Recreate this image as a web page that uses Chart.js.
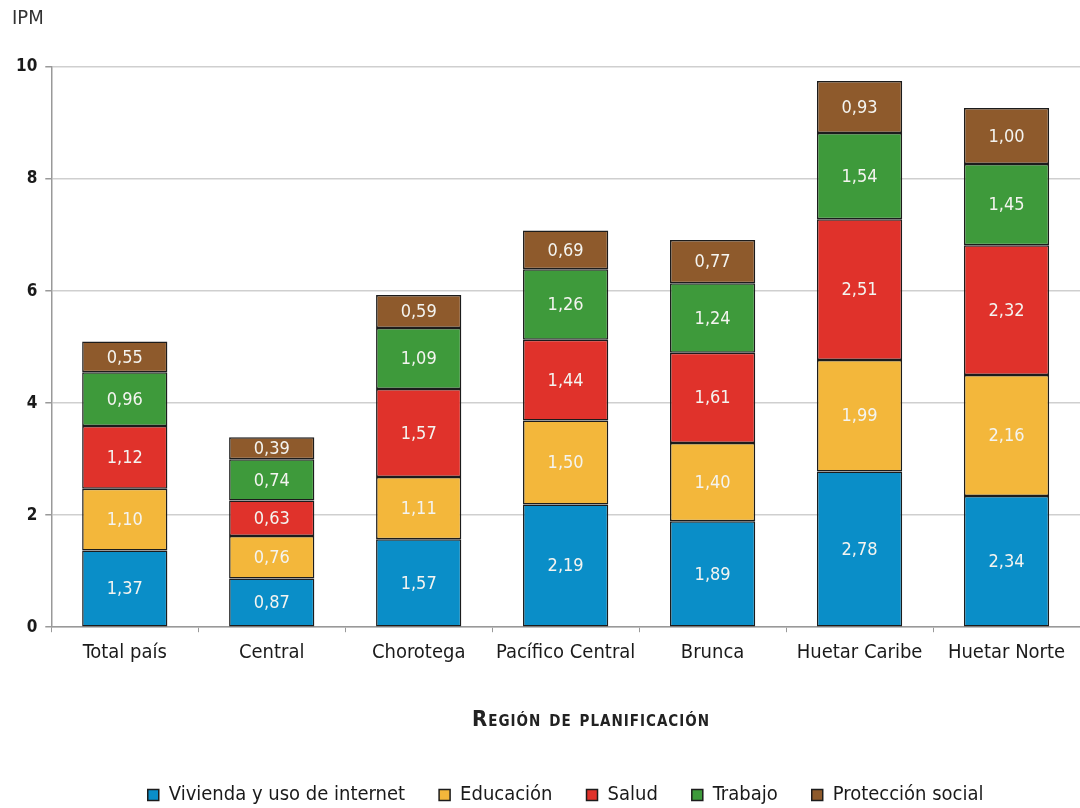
<!DOCTYPE html>
<html>
<head>
<meta charset="utf-8">
<script src="https://cdn.jsdelivr.net/npm/chart.js@4"></script>
<style>
    html, body { margin: 0; padding: 0; background: #fff; }
    #wrap { width: 1080px; height: 808px; position: relative; }
</style>
</head>
<body>
<div id="wrap"><canvas id="ipmChart"></canvas></div>
<script>
// Regiones y componentes del IPM
const regiones = ['Total país', 'Central', 'Chorotega', 'Pacífico Central', 'Brunca', 'Huetar Caribe', 'Huetar Norte'];
const vivienda = [1.37, 0.87, 1.57, 2.19, 1.89, 2.78, 2.34];
const educacion = [1.10, 0.76, 1.11, 1.50, 1.40, 1.99, 2.16];
const salud = [1.12, 0.63, 1.57, 1.44, 1.61, 2.51, 2.32];
const trabajo = [0.96, 0.74, 1.09, 1.26, 1.24, 1.54, 1.45];
const proteccion = [0.55, 0.39, 0.59, 0.69, 0.77, 0.93, 1.00];
const yTicks = [0, 2, 4, 6, 8, 10];
const xTitle = 'Región de planificación';

const FONT = "'Liberation Sans Narrow', 'DejaVu Sans Condensed', sans-serif";

function serie(label, data, color) {
    return {
        label: label,
        data: data,
        backgroundColor: color,
        borderColor: '#1c1c1c',
        borderWidth: 1.5,
        borderSkipped: false,
        barPercentage: 0.58,
        categoryPercentage: 1
    };
}

// Valores dentro de cada segmento
const valueLabels = {
    id: 'valueLabels',
    afterDatasetsDraw(chart) {
        const ctx = chart.ctx;
        ctx.save();
        ctx.font = '18px ' + FONT;
        ctx.fillStyle = '#f4f4f0';
        ctx.textAlign = 'center';
        ctx.textBaseline = 'middle';
        chart.data.datasets.forEach((ds, i) => {
            chart.getDatasetMeta(i).data.forEach((bar, j) => {
                const p = bar.getProps(['x', 'y', 'base'], true);
                ctx.fillText(ds.data[j].toFixed(2).replace('.', ','), p.x, (p.y + p.base) / 2 + 1);
            });
        });
        ctx.restore();
    }
};

// IPM arriba a la izquierda y título del eje X en versalitas
const extraText = {
    id: 'extraText',
    afterDraw(chart) {
        const ctx = chart.ctx;
        ctx.save();
        ctx.font = '20px ' + FONT;
        ctx.fillStyle = '#333';
        ctx.textAlign = 'left';
        ctx.textBaseline = 'middle';
        ctx.fillText('IPM', 12, 19);

        const xs = chart.scales.x;
        ctx.font = 'bold 22px ' + FONT;
        ctx.fontVariantCaps = 'small-caps';
        ctx.letterSpacing = '1px';
        ctx.fillStyle = '#222';
        ctx.textAlign = 'center';
        ctx.fillText(xTitle, 591, xs.bottom - 31);
        ctx.restore();
    }
};

const ctx = document.getElementById('ipmChart').getContext('2d');
new Chart(ctx, {
    type: 'bar',
    data: {
        labels: regiones,
        datasets: [
            serie('Vivienda y uso de internet', vivienda, '#0a8ec8'),
            serie('Educación', educacion, '#f3b73b'),
            serie('Salud', salud, '#e0322b'),
            serie('Trabajo', trabajo, '#3e9a3b'),
            serie('Protección social', proteccion, '#8e5a2c')
        ]
    },
    options: {
        responsive: true,
        maintainAspectRatio: false,
        animation: false,
        layout: { padding: { top: 67, left: 8, right: 0, bottom: -7 } },
        plugins: {
            legend: {
                position: 'bottom',
                fullSize: false,
                labels: {
                    color: '#1a1a1a',
                    boxWidth: 11,
                    boxHeight: 11,
                    padding: 34,
                    font: { family: FONT, size: 20 },
                    generateLabels(chart) {
                        return chart.data.datasets.map((ds, i) => ({
                            text: ds.label,
                            fillStyle: ds.backgroundColor,
                            strokeStyle: '#1c1c1c',
                            lineWidth: 1.5,
                            datasetIndex: i,
                            fontColor: '#1a1a1a'
                        }));
                    }
                }
            },
            tooltip: { enabled: false }
        },
        scales: {
            x: {
                stacked: true,
                grid: { display: true, drawOnChartArea: false, offset: true, tickLength: 5, color: '#999' },
                border: { color: '#999', width: 1.5 },
                ticks: { color: '#1a1a1a', font: { family: FONT, size: 20 }, padding: 9 },
                title: {
                    // reserva el espacio; el texto se dibuja en versalitas con extraText
                    display: true,
                    text: xTitle,
                    color: 'rgba(0,0,0,0)',
                    font: { family: FONT, size: 19 },
                    padding: { top: 36, bottom: 18 }
                }
            },
            y: {
                stacked: true,
                min: 0,
                max: 10,
                afterBuildTicks(axis) {
                    axis.ticks = yTicks.map(v => ({ value: v }));
                },
                grid: { color: '#cfcfcf', lineWidth: 1.5, tickLength: 6, tickColor: '#999' },
                border: { color: '#999', width: 1.5 },
                ticks: { color: '#1a1a1a', font: { family: FONT, size: 17, weight: 'bold' }, padding: 8 }
            }
        }
    },
    plugins: [valueLabels, extraText]
});
</script>
</body>
</html>
